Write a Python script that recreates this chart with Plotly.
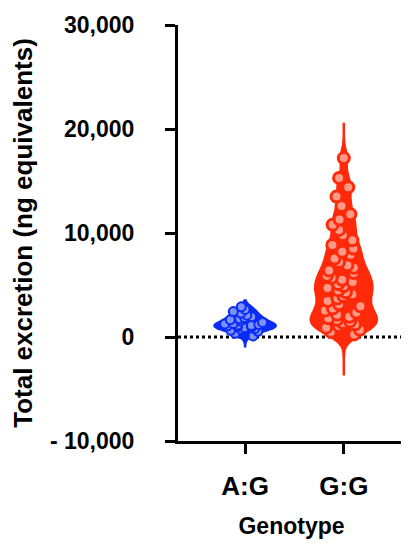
import plotly.graph_objects as go

categories = ["A:G", "G:G"]

ag_values = [100, 350,
             550, 650, 750, 800, 900, 950,
             1000, 1050, 1100, 1150, 1200, 1250, 1300, 1400,
             1550, 1650, 1750, 1850, 1950,
             2100, 2300, 2450,
             2650, 2900]

gg_values = [250, 500, 700, 900,
             1050, 1200, 1350, 1500, 1650, 1800, 1950,
             2150, 2350, 2550, 2750, 2950,
             3150, 3450, 3700, 3950,
             4100, 4300, 4500, 4700, 4900,
             5100, 5300, 5500, 5700, 5900,
             6150, 6400, 6650, 6900,
             7200, 7550, 7900,
             8200, 8500, 8850,
             9300, 9800,
             10300, 10800,
             11300, 11800,
             12600,
             13500,
             14400,
             15300,
             17200]

ag_span = [-900, 3500]
gg_span = [-3700, 20600]

y_tickvals = [-10000, 0, 10000, 20000, 30000]
y_ticktext = ["- 10,000", "0", "10,000", "20,000", "30,000"]

BLUE = "#0A2CF5"
BLUE_LIGHT = "#7E92FF"
RED = "#FF2A0A"
RED_LIGHT = "#FF9A88"

fig = go.Figure()

fig.add_trace(go.Violin(
    x=[categories[0]] * len(ag_values), y=ag_values,
    fillcolor=BLUE, line=dict(color=BLUE, width=2.5), opacity=1,
    bandwidth=330, spanmode="manual", span=ag_span, width=0.62,
    points="all", pointpos=0, jitter=0.8,
    marker=dict(color=BLUE_LIGHT, size=9, line=dict(color=BLUE, width=2)),
    box_visible=False, meanline_visible=False, showlegend=False,
    hoveron="points",
))

fig.add_trace(go.Violin(
    x=[categories[1]] * len(gg_values), y=gg_values,
    fillcolor=RED, line=dict(color=RED, width=2.5), opacity=1,
    bandwidth=760, spanmode="manual", span=gg_span, width=0.67,
    points="all", pointpos=0, jitter=0.65,
    marker=dict(color=RED_LIGHT, size=11, line=dict(color=RED, width=3)),
    box_visible=False, meanline_visible=False, showlegend=False,
    hoveron="points",
))

fig.add_shape(type="line", xref="paper", yref="y", x0=0, x1=1, y0=0, y1=0,
              line=dict(color="black", width=3, dash="dot"), layer="below")

# page body has an 8px margin; figure is sized to fit the 409x545 window
fig.update_layout(
    width=401, height=537,
    margin=dict(l=170, r=4, t=17, b=104),
    paper_bgcolor="white", plot_bgcolor="white",
    font=dict(family="Liberation Sans, Arial, sans-serif", color="black"),
    violinmode="overlay",
)

fig.update_xaxes(
    type="category", categoryorder="array", categoryarray=categories,
    range=[-0.68, 1.62],
    showline=True, linecolor="black", linewidth=3,
    ticks="outside", ticklen=10, tickwidth=3, tickcolor="black",
    tickfont=dict(size=26, weight="bold", color="black"),
    ticklabelstandoff=10,
    showgrid=False, zeroline=False,
    title=dict(text="Genotype", font=dict(size=23, weight="bold"), standoff=18),
)

fig.update_yaxes(
    range=[-10000, 30000],
    tickvals=y_tickvals, ticktext=y_ticktext,
    showline=True, linecolor="black", linewidth=3,
    ticks="outside", ticklen=10, tickwidth=3, tickcolor="black",
    tickfont=dict(size=23, weight="bold", color="black"),
    ticklabelstandoff=26,
    showgrid=False, zeroline=False,
    title=dict(text="Total excretion (ng equivalents)",
               font=dict(size=26, weight="bold"), standoff=12),
)

fig.write_html("out.html")
